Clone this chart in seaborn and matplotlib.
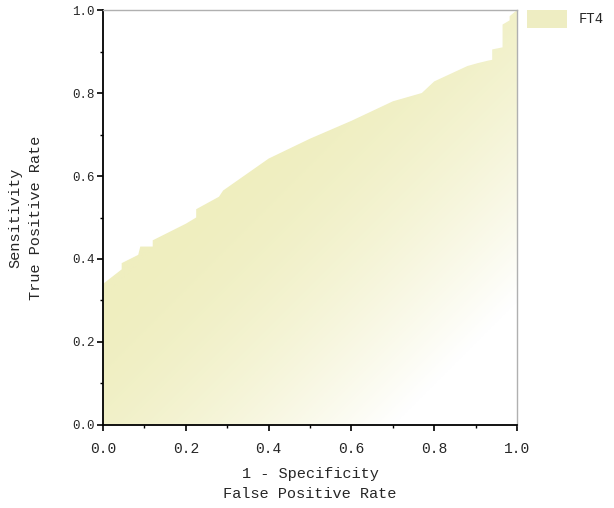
import numpy as np
import matplotlib.pyplot as plt
import matplotlib.colors as mcolors
from matplotlib.patches import Patch
from matplotlib.ticker import MultipleLocator
import seaborn as sns

# ROC curve points
fpr = [0.0, 0.0, 0.045, 0.045, 0.085, 0.09, 0.12, 0.12, 0.16, 0.20, 0.225, 0.225,
       0.28, 0.29, 0.40, 0.50, 0.60, 0.70, 0.77, 0.80, 0.88, 0.905, 0.93, 0.94,
       0.94, 0.965, 0.965, 0.982, 0.982, 1.0]
tpr = [0.0, 0.34, 0.375, 0.39, 0.41, 0.43, 0.43, 0.445, 0.465, 0.485, 0.50, 0.52,
       0.55, 0.565, 0.642, 0.69, 0.733, 0.78, 0.80, 0.828, 0.865, 0.872, 0.878, 0.88,
       0.905, 0.91, 0.965, 0.975, 0.985, 1.0]
series_name = "FT4"
ticks = [0.0, 0.2, 0.4, 0.6, 0.8, 1.0]

sns.set_style("ticks")
plt.rcParams['font.family'] = ['Liberation Mono', 'DejaVu Sans Mono']

fig = plt.figure(figsize=(6.14, 5.08), dpi=100)
ax = fig.add_axes([0.1678, 0.1634, 0.6743, 0.8169])

# diagonal gradient: yellow toward the upper-left, white toward bottom-right
yellow = np.array(mcolors.to_rgb("#efeebf"))
white = np.array([1.0, 1.0, 1.0])
gx, gy = np.meshgrid(np.linspace(0, 1, 300), np.linspace(0, 1, 300))
t = np.clip(gx - gy + 0.3, 0, 1) ** 1.6
img = yellow[None, None, :] * (1 - t[..., None]) + white[None, None, :] * t[..., None]
im = ax.imshow(img, extent=[0, 1, 0, 1], origin="lower", aspect="auto", zorder=1)

poly = ax.fill_between(fpr, tpr, 0, facecolor="none", edgecolor="none", zorder=2)
im.set_clip_path(poly.get_paths()[0], transform=ax.transData)

ax.set_xlim(0, 1)
ax.set_ylim(0, 1)
ax.set_xticks(ticks)
ax.set_yticks(ticks)
ax.set_xticklabels([f"{v:.1f}" for v in ticks], fontsize=10.5)
ax.set_yticklabels([f"{v:.1f}" for v in ticks], fontsize=9)
ax.xaxis.set_minor_locator(MultipleLocator(0.1))
ax.yaxis.set_minor_locator(MultipleLocator(0.1))
ax.tick_params(which="major", direction="out", length=4, width=1.2, color="black")
ax.tick_params(which="minor", direction="out", length=2.5, width=1.0, color="black")
ax.tick_params(axis="x", which="major", pad=8)
ax.tick_params(axis="y", which="major", pad=2)
ax.tick_params(top=False, right=False, which="both")

for side in ["left", "bottom"]:
    ax.spines[side].set_color("black")
    ax.spines[side].set_linewidth(1.3)
for side in ["top", "right"]:
    ax.spines[side].set_color("#b0b0b0")
    ax.spines[side].set_linewidth(1.0)
ax.set_facecolor("white")

ax.set_xlabel("1 - Specificity\nFalse Positive Rate", fontsize=11, labelpad=8, linespacing=1.6)
ax.set_ylabel("Sensitivity\nTrue Positive Rate", fontsize=11, labelpad=21, linespacing=1.6)

handle = Patch(facecolor="#eeedc2", edgecolor="none")
ax.legend([handle], [series_name], loc="upper left", bbox_to_anchor=(1.024, 1.0),
          frameon=False, handlelength=2.9, handleheight=1.6, handletextpad=0.8,
          fontsize=10, borderaxespad=0, borderpad=0)

fig.savefig("out.png", dpi=100)
